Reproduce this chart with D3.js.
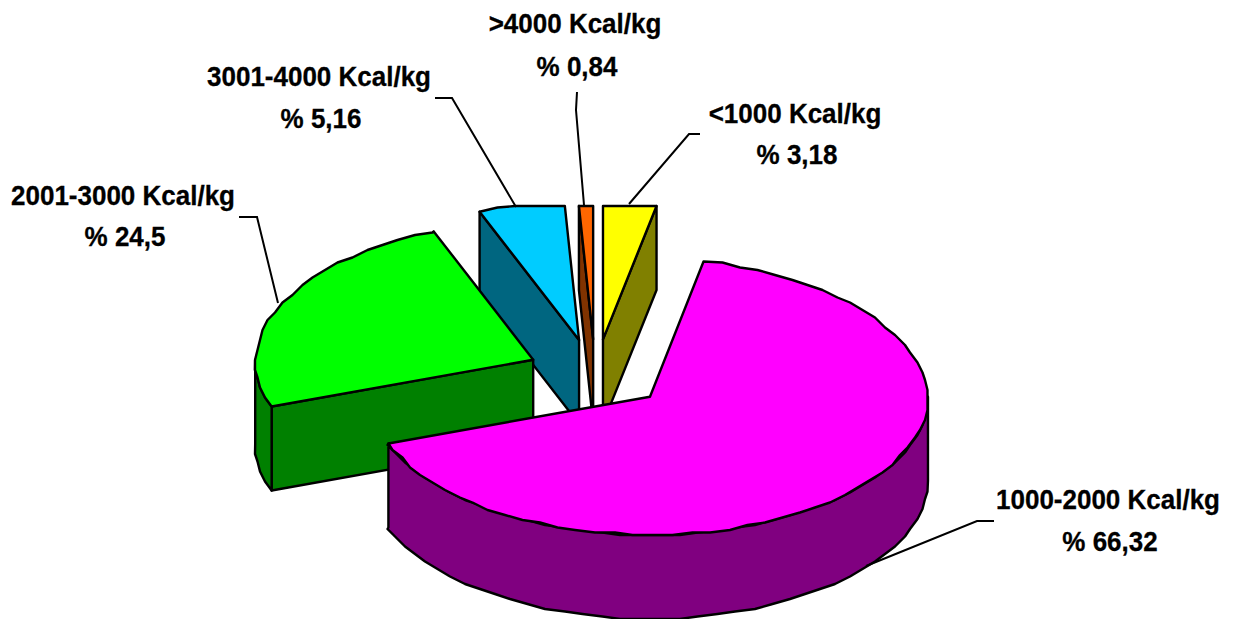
<!DOCTYPE html>
<html>
<head>
<meta charset="utf-8">
<script src="https://cdn.jsdelivr.net/npm/d3@7"></script>
<style>
    body { margin: 0; background: #fff; }
    text { font-family: "Liberation Sans", Arial, sans-serif; font-weight: bold; font-size: 27.5px; fill: #000; stroke: #000; stroke-width: 0.3px; text-anchor: middle; }
</style>
</head>
<body>
<div id="svg"></div>
<script>
// datos del grafico
const categorias = ["<1000 Kcal/kg", "1000-2000 Kcal/kg", "2001-3000 Kcal/kg", "3001-4000 Kcal/kg", ">4000 Kcal/kg"];
const porcentajes = [3.18, 66.32, 24.5, 5.16, 0.84];
const colores = ["#ffff00", "#ff00ff", "#00ff00", "#00ccff", "#ff6600"];
const coloresLado = ["#808000", "#800080", "#008000", "#006680", "#803300"];

// posicion de las etiquetas y sus lineas guia
const posEtiquetas = [
    { x: 795, y1: 123, y2: 164 },
    { x: 1108, y1: 509, y2: 551 },
    { x: 123, y1: 205, y2: 246 },
    { x: 319, y1: 86, y2: 128 },
    { x: 575, y1: 33, y2: 76 },
];
const guias = [
    [[700, 134], [689, 134], [629, 204]],
    [[994, 521], [977, 521], [866, 566]],
    [[239, 217], [257, 217], [278, 303]],
    [[435, 98], [452, 98], [516, 207]],
    [[577, 92], [576, 110], [584, 205]],
];
// pequeño ajuste horizontal de cada porcion separada
const ajusteX = [-1, 0, 0, -3, -2];

const width = 1233;
const height = 619;

// geometria del pie en 3D
const centro = { x: 597, y: 374 };
const rx = 278;
const ry = 138;
const alto = 84;
const separacion = 70;
const techo = 206; // la imagen corta el borde de atras en esta altura
const fuga = 0.03; // la parte de atras se ve algo mas angosta
const paso = 4 * Math.PI / 180;
const grilla = 2.5; // el borde de la imagen original es escalonado
const angostar = 0.945; // la letra original es algo condensada

const svg = d3
    .select("#svg")
    .append("svg")
    .attr("width", width)
    .attr("height", height);

const color = d3.scaleOrdinal().domain(categorias).range(colores);
const colorLado = d3.scaleOrdinal().domain(categorias).range(coloresLado);

const pie = d3.pie().sort(null).value((d, i) => porcentajes[i]).startAngle(0).endAngle(2 * Math.PI);
const linea = d3.line();

const proyectar = (origen, a) => [
    origen.x + rx * (1 - fuga * Math.max(Math.cos(a), 0)) * Math.sin(a),
    Math.max(origen.y - ry * Math.cos(a), techo),
];
const bajar = (p) => [p[0], p[1] + alto];
const escalonar = (p) => [Math.round(p[0] / grilla) * grilla, Math.max(Math.round(p[1] / grilla) * grilla, techo)];

const porciones = pie(categorias).map((d, i) => {
    const medio = (d.startAngle + d.endAngle) / 2;
    const apice = {
        x: centro.x + separacion * Math.sin(medio) + ajusteX[i],
        y: centro.y - separacion * (ry / rx) * Math.cos(medio),
    };
    return { ...d, apice };
});

const arcoBorde = (origen, a0, a1) => {
    const angulos = d3.range(a0, a1, paso);
    angulos.push(a1);
    return angulos.map((a, i) => {
        const p = proyectar(origen, a);
        return i === 0 || i === angulos.length - 1 ? p : escalonar(p);
    });
};

// de atras hacia adelante
const ordenadas = porciones.slice().sort((a, b) => a.apice.y - b.apice.y);

const grupos = svg
    .append("g")
    .attr("stroke", "#000")
    .attr("stroke-width", 2.4)
    .attr("stroke-linejoin", "round")
    .selectAll("g")
    .data(ordenadas)
    .join("g");

grupos.each(function (d) {
    const g = d3.select(this);
    const o = [d.apice.x, d.apice.y];
    const oBajo = bajar(o);
    const lado = colorLado(d.data);

    // paredes del corte, solo las que miran al frente
    if (Math.sin(d.startAngle) < 0) {
        const p = proyectar(d.apice, d.startAngle);
        g.append("path").attr("fill", lado).attr("d", linea([o, p, bajar(p), oBajo]) + "Z");
    }
    if (Math.sin(d.endAngle) > 0) {
        const p = proyectar(d.apice, d.endAngle);
        g.append("path").attr("fill", lado).attr("d", linea([o, p, bajar(p), oBajo]) + "Z");
    }

    // pared exterior, mitad delantera
    const a0 = Math.max(d.startAngle, Math.PI / 2);
    const a1 = Math.min(d.endAngle, 3 * Math.PI / 2);
    if (a0 < a1) {
        const borde = arcoBorde(d.apice, a0, a1);
        g.append("path").attr("fill", lado)
            .attr("d", linea(borde.concat(borde.map(bajar).reverse())) + "Z");
    }

    // cara superior
    g.append("path").attr("fill", color(d.data))
        .attr("d", linea([o].concat(arcoBorde(d.apice, d.startAngle, d.endAngle))) + "Z");
});

// lineas guia
svg.append("g")
    .selectAll("path")
    .data(guias)
    .join("path")
    .attr("fill", "none")
    .attr("stroke", "#000")
    .attr("stroke-width", 2)
    .attr("d", (d) => linea(d));

// etiquetas
const etiquetas = svg.append("g")
    .selectAll("g")
    .data(categorias)
    .join("g");

etiquetas.append("text")
    .attr("transform", (d, i) => `translate(${posEtiquetas[i].x},${posEtiquetas[i].y1}) scale(${angostar},1)`)
    .text((d) => d);

etiquetas.append("text")
    .attr("transform", (d, i) => `translate(${posEtiquetas[i].x + 2},${posEtiquetas[i].y2}) scale(${angostar},1)`)
    .text((d, i) => "% " + String(porcentajes[i]).replace(".", ","));
</script>
</body>
</html>
